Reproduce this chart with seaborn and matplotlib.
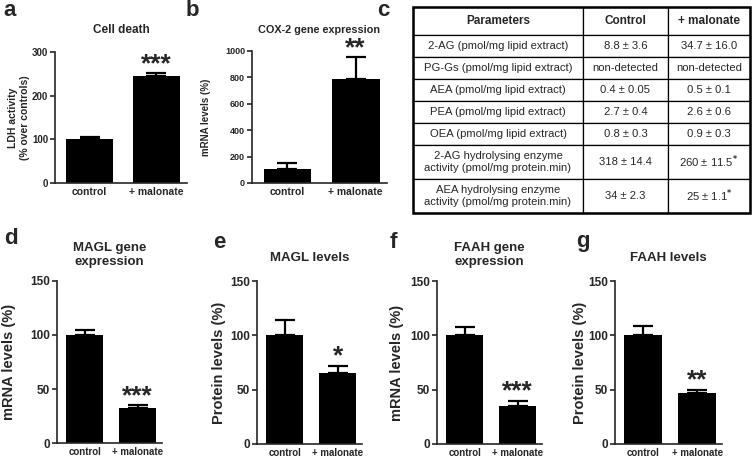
import matplotlib
matplotlib.use("Agg")
import matplotlib.pyplot as plt
import seaborn as sns
import pandas as pd

groups = ["control", "+ malonate"]

cell_death = [101, 245]
cell_death_err = [4, 6]
cox2 = [105, 788]
cox2_err = [45, 167]
magl_mrna = [100, 32]
magl_mrna_err = [5, 3]
magl_prot = [100, 65]
magl_prot_err = [14, 7]
faah_mrna = [100, 35]
faah_mrna_err = [8, 5]
faah_prot = [100, 47]
faah_prot_err = [9, 3]

table_cols = ["Parameters", "Control", "+ malonate"]
table_params = [
    "2-AG (pmol/mg lipid extract)",
    "PG-Gs (pmol/mg lipid extract)",
    "AEA (pmol/mg lipid extract)",
    "PEA (pmol/mg lipid extract)",
    "OEA (pmol/mg lipid extract)",
    "2-AG hydrolysing enzyme\nactivity (pmol/mg protein.min)",
    "AEA hydrolysing enzyme\nactivity (pmol/mg protein.min)",
]
table_control = ["8.8 ± 3.6", "non-detected", "0.4 ± 0.05", "2.7 ± 0.4",
                 "0.8 ± 0.3", "318 ± 14.4", "34 ± 2.3"]
table_malonate = ["34.7 ± 16.0", "non-detected", "0.5 ± 0.1", "2.6 ± 0.6",
                  "0.9 ± 0.3", "260 ± 11.5$^{*}$", "25 ± 1.1$^{*}$"]

sns.set_style("ticks")
plt.rcParams["font.family"] = ["Liberation Sans", "DejaVu Sans"]
plt.rcParams["font.weight"] = "bold"
plt.rcParams["axes.linewidth"] = 1.2

W, H = 752, 459
fig = plt.figure(figsize=(W / 100, H / 100), dpi=100)


def px_axes(left, top, right, bottom):
    return fig.add_axes([left / W, 1 - bottom / H, (right - left) / W, (bottom - top) / H])


def bar_panel(box, values, errs, ymax, yticks, title, ylabel, stars, letter,
              letter_xy, title_y, fs_tick, fs_title, fs_label, fs_xlab, ylabel_x):
    ax = px_axes(*box)
    df = pd.DataFrame({"group": groups, "value": values})
    sns.barplot(data=df, x="group", y="value", color="black", width=0.7,
                errorbar=None, ax=ax, edgecolor="black", linewidth=0)
    ax.errorbar([0, 1], values, yerr=[[0, 0], errs], fmt="none", ecolor="black",
                elinewidth=1.6, capsize=7, capthick=1.6)
    ax.set_xlim(-0.52, 1.46)
    ax.set_ylim(0, ymax)
    ax.set_yticks(yticks)
    ax.tick_params(axis="y", length=3.5, width=1.2, labelsize=fs_tick, pad=1.5)
    ax.tick_params(axis="x", length=0, labelsize=fs_xlab, pad=3)
    ax.set_xlabel("")
    ax.set_ylabel("")
    sns.despine(ax=ax)
    for lab in ax.get_xticklabels() + ax.get_yticklabels():
        lab.set_fontweight("bold")
    ax.annotate(stars, xy=(1, values[1] + errs[1]), xytext=(0, 1.5),
                textcoords="offset points", ha="center", va="baseline",
                fontsize=19, fontweight="bold")
    x0, _, x1, _ = box
    fig.text((x0 + x1) / 2 / W, 1 - title_y / H, title, ha="center", va="center",
             fontsize=fs_title, fontweight="bold", linespacing=1.3)
    fig.text(ylabel_x / W, 1 - (box[1] + box[3]) / 2 / H, ylabel, rotation=90,
             ha="center", va="center", fontsize=fs_label, fontweight="bold",
             linespacing=1.2)
    fig.text(letter_xy[0] / W, 1 - letter_xy[1] / H, letter, ha="left", va="center",
             fontsize=16, fontweight="bold")
    return ax


bar_panel((55, 52, 187, 183), cell_death, cell_death_err, 300, [0, 100, 200, 300],
          "Cell death", "LDH activity\n(% over controls)", "***", "a", (3, 10), 30,
          7, 8.5, 7.5, 7.5, 19)
bar_panel((252, 51, 387, 183), cox2, cox2_err, 1000, [0, 200, 400, 600, 800, 1000],
          "COX-2 gene expression", "mRNA levels (%)", "**", "b", (186, 10), 30,
          6.5, 7.8, 7, 7.5, 206)
bar_panel((57, 281, 162, 443), magl_mrna, magl_mrna_err, 150, [0, 50, 100, 150],
          "MAGL gene\nexpression", "mRNA levels (%)", "***", "d", (4, 238), 255,
          8.5, 9.5, 10.5, 7, 9)
bar_panel((257, 281, 362, 444), magl_prot, magl_prot_err, 150, [0, 50, 100, 150],
          "MAGL levels", "Protein levels (%)", "*", "e", (213, 243), 258,
          8.5, 9.5, 10.5, 7, 219)
bar_panel((437, 281, 542, 444), faah_mrna, faah_mrna_err, 150, [0, 50, 100, 150],
          "FAAH gene\nexpression", "mRNA levels (%)", "***", "f", (390, 242), 255,
          8.5, 9.5, 10.5, 7, 397)
bar_panel((615, 281, 722, 444), faah_prot, faah_prot_err, 150, [0, 50, 100, 150],
          "FAAH levels", "Protein levels (%)", "**", "g", (576, 242), 258,
          8.5, 9.5, 10.5, 7, 580)

# table c
tax = px_axes(413, 7, 750, 213)
tax.axis("off")
cell_text = [list(r) for r in zip(table_params, table_control, table_malonate)]
col_w = [170 / 337, 85 / 337, 82 / 337]
tbl = tax.table(cellText=cell_text, colLabels=table_cols, colWidths=col_w,
                cellLoc="center", bbox=[0, 0, 1, 1])
tbl.auto_set_font_size(False)
row_h = [28, 22, 22, 22, 22, 22, 34, 34]
for (r, c), cell in tbl.get_celld().items():
    cell.set_height(row_h[r] / 206)
    cell.set_linewidth(0.9)
    cell.set_edgecolor("black")
    txt = cell.get_text()
    if r == 0:
        txt.set_fontsize(8.5)
        txt.set_fontweight("bold")
    else:
        txt.set_fontsize(8.1)
        txt.set_fontweight("normal")
        txt.set_linespacing(1.15)
tax.add_patch(plt.Rectangle((0, 0), 1, 1, transform=tax.transAxes, fill=False,
                            lw=1.8, edgecolor="black", clip_on=False))
fig.text(377 / W, 1 - 10 / H, "c", ha="left", va="center", fontsize=16,
         fontweight="bold")

fig.savefig("out.png", dpi=100)
